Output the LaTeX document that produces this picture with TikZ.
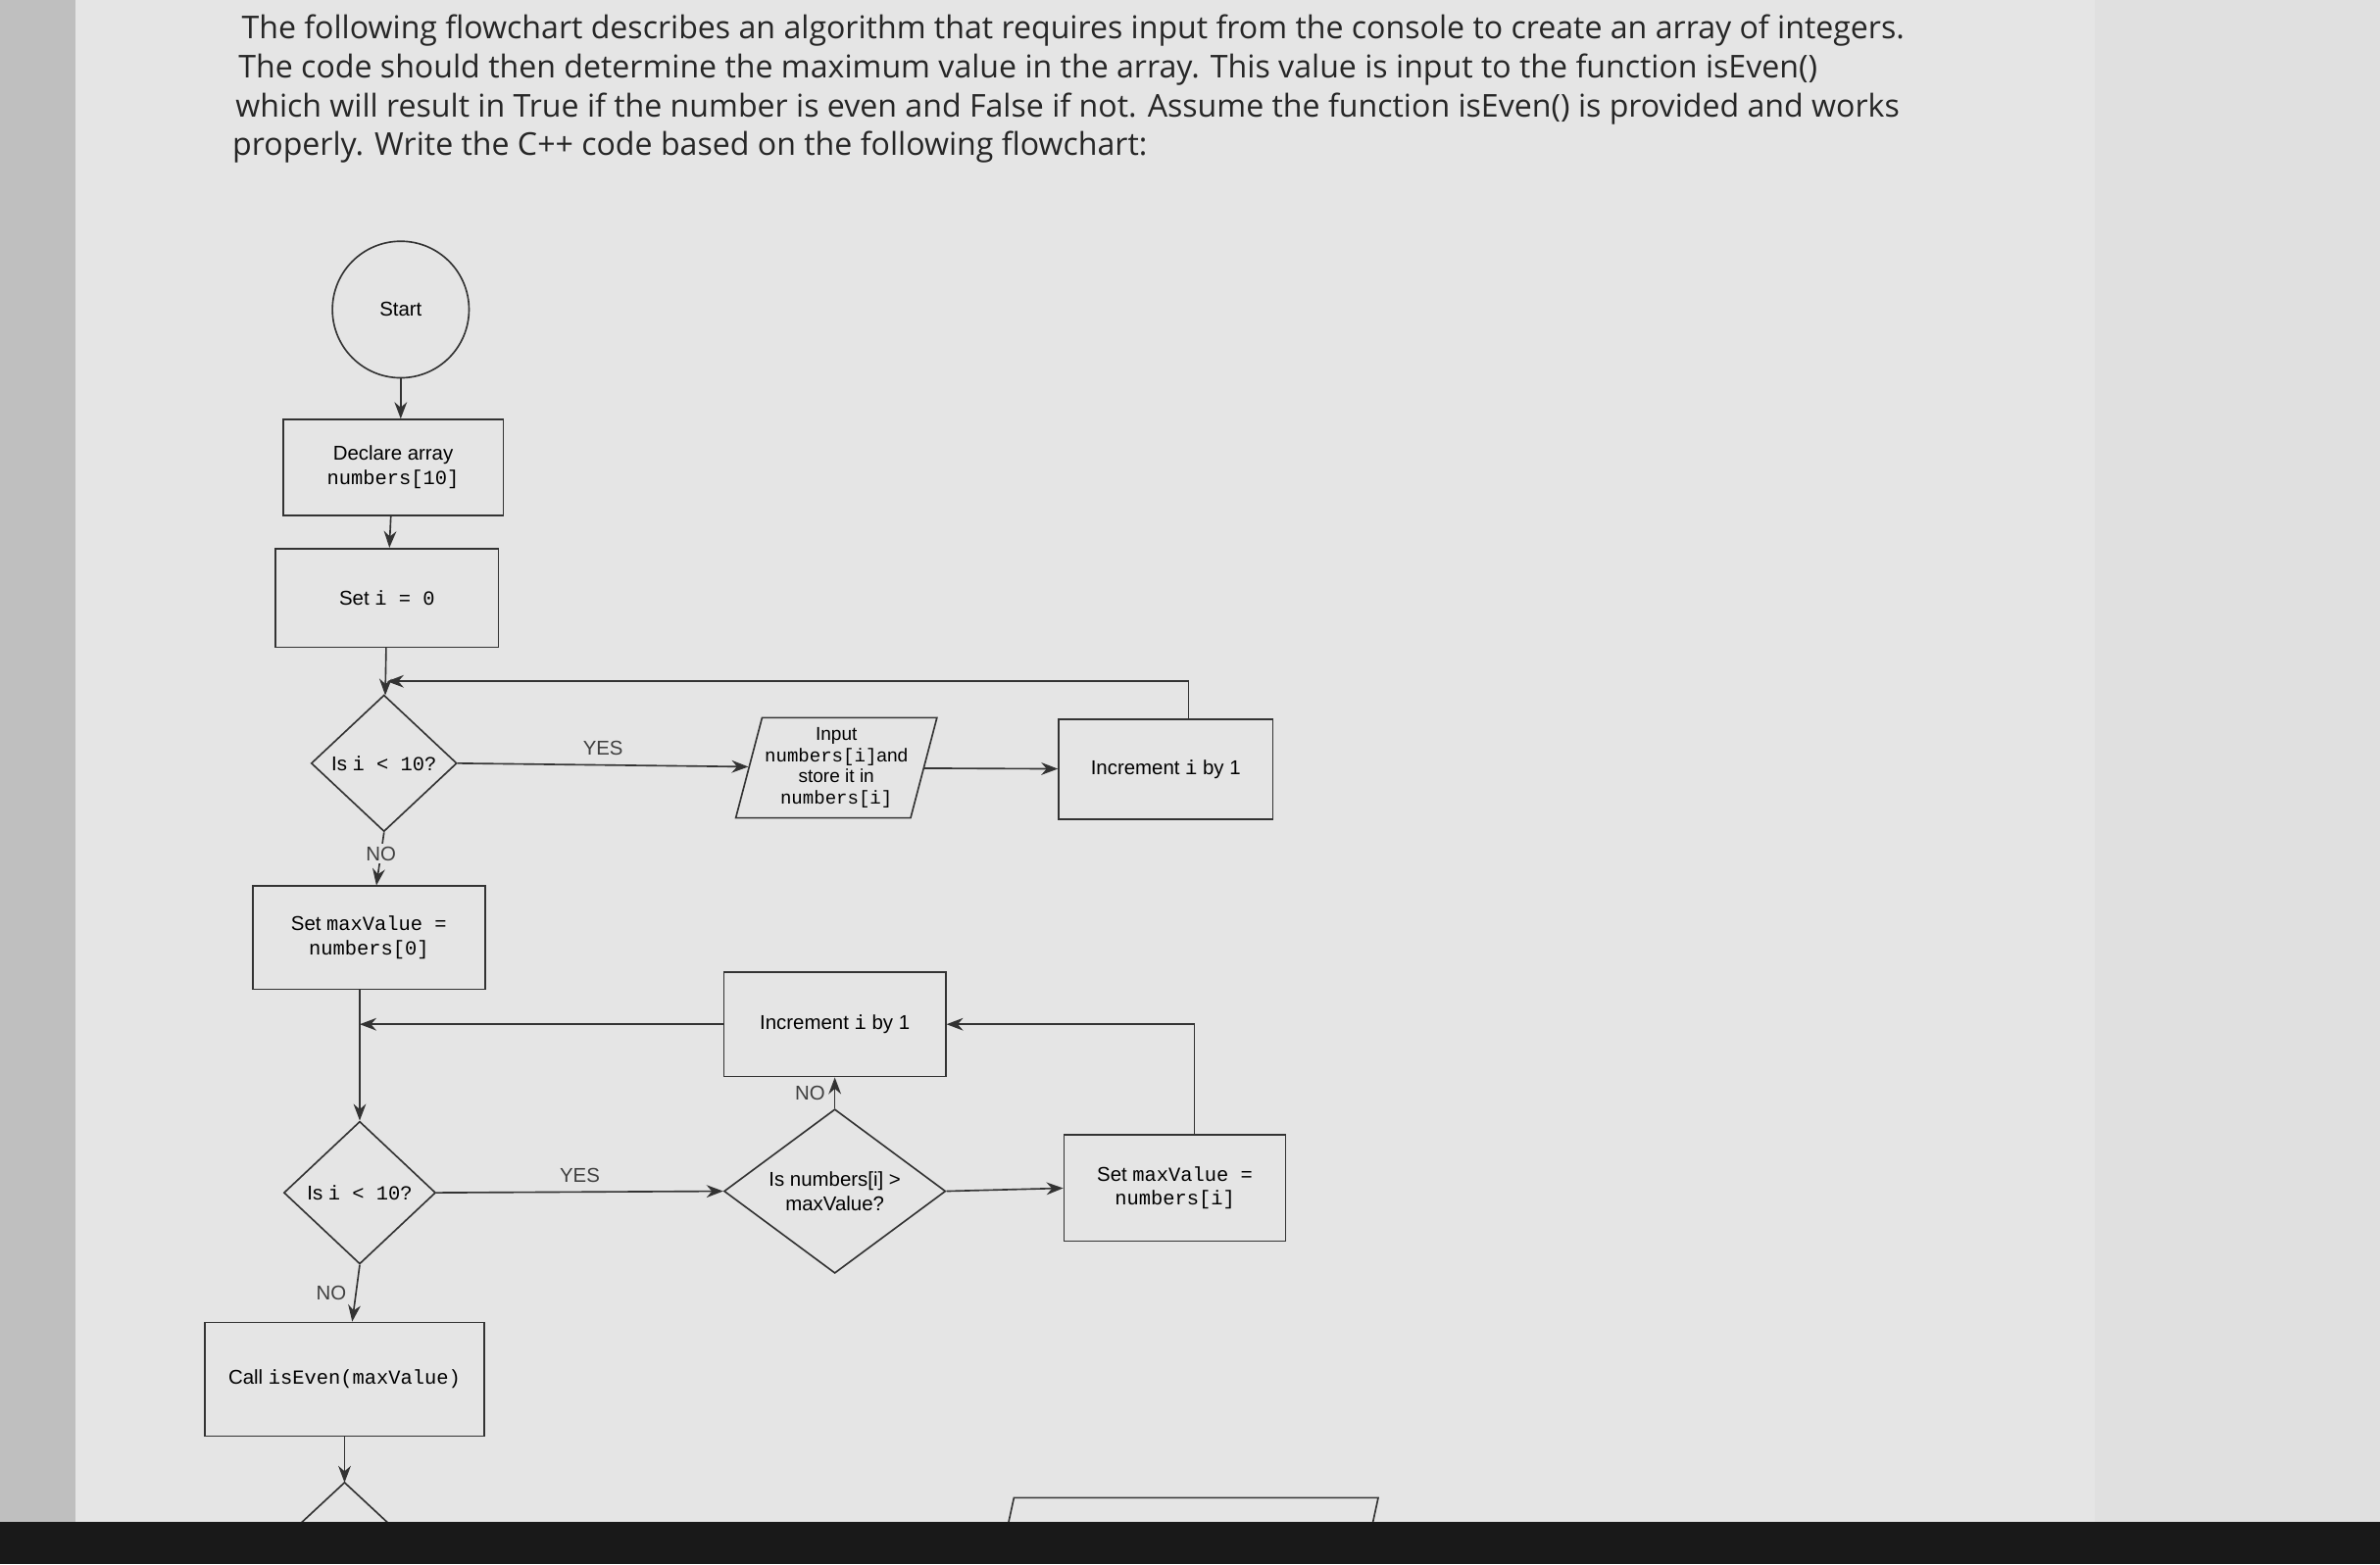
\documentclass[tikz,border=0pt]{standalone}
\usepackage{fontspec}
\setmainfont{Liberation Sans}
\newfontfamily\parafont{Open Sans}
\newfontfamily\codefont{Liberation Mono}
\usetikzlibrary{shapes.geometric,arrows.meta}
\newcommand{\cd}[1]{{\codefont #1}}
\tikzset{
  box/.style={draw=black!80, semithick, align=center, font=\fontsize{7.5}{9}\selectfont, inner sep=1pt},
  dec/.style={draw=black!80, semithick, diamond, aspect=1.05, align=center, font=\fontsize{7.5}{9}\selectfont, inner sep=0pt},
  flow/.style={draw=black!80, semithick, -{Stealth[length=2.2mm]}},
  lbl/.style={font=\fontsize{7.5}{9}\selectfont, text=black!75},
  para/.style={anchor=west, font=\parafont\fontsize{11.8}{14}\selectfont, text=black!85}
}
\begin{document}
\begin{tikzpicture}[x=0.2mm, y=-0.2mm]
  \useasboundingbox (0,0) rectangle (1568,1031);
  % background of the photo
  \fill[black!12] (0,0) rectangle (1568,1031);
  \fill[black!25] (0,0) rectangle (50,1031);
  \fill[black!10] (50,0) rectangle (1380,1031);

  % question text
  \node[para] (l1) at (153,20) {The following flowchart describes an algorithm that requires input from the console to create an array of integers.};
  \node[para] (l2) at (151,46) {The code should then determine the maximum value in the array. This value is input to the function isEven()};
  \node[para] (l3) at (149,72) {which will result in True if the number is even and False if not. Assume the function isEven() is provided and works};
  \node[para] (l4) at (147,97) {properly. Write the C++ code based on the following flowchart:};

  % first loop
  \node[box, circle, minimum size=18mm] (start) at (264,204) {Start};
  \node[box, minimum width=29mm, minimum height=12.6mm] (decl) at (259,308) {Declare array\\\cd{numbers[10]}};
  \node[box, minimum width=29.4mm, minimum height=13mm] (seti) at (255,394) {Set \cd{i = 0}};
  \node[dec, minimum width=19.2mm, minimum height=18mm] (test1) at (253,503) {Is \cd{i < 10?}};
  \node[box, trapezium, trapezium left angle=73, trapezium right angle=107, trapezium stretches body, minimum width=25mm, minimum height=13.2mm, font=\fontsize{7}{8}\selectfont] (input) at (551,506) {Input\\\cd{numbers[i]}and\\store it in\\\cd{numbers[i]}};
  \node[box, minimum width=28.2mm, minimum height=13.2mm] (inc1) at (768,507) {Increment \cd{i} by 1};

  % second loop
  \node[box, minimum width=30.6mm, minimum height=13.6mm] (setmax) at (243,618) {Set \cd{maxValue =}\\\cd{numbers[0]}};
  \node[box, minimum width=29.2mm, minimum height=13.8mm] (inc2) at (550,675) {Increment \cd{i} by 1};
  \node[dec, minimum width=20mm, minimum height=18.8mm] (test2) at (237,786) {Is \cd{i < 10?}};
  \node[dec, minimum width=29.2mm, minimum height=18.8mm] (cmp) at (550,785) {Is numbers[i] >\\maxValue?};
  \node[box, minimum width=29.2mm, minimum height=14mm] (setmax2) at (774,783) {Set \cd{maxValue =}\\\cd{numbers[i]}};
  \node[box, minimum width=36.8mm, minimum height=15mm] (call) at (227,909) {Call \cd{isEven(maxValue)}};

  % cut-off shapes at the bottom
  \draw[black!80, semithick] (170,1030) -- (227,977) -- (284,1030);
  \draw[black!80, semithick] (663,1010) -- (668,987) -- (908,987) -- (903,1010);

  % connectors
  \draw[flow] (start) -- (start |- decl.north);
  \draw[flow] (decl) -- (seti);
  \draw[flow] (seti) -- (test1);
  \draw[flow] (test1.east) -- node[lbl, above, pos=0.5] {YES} (input);
  \draw[flow] (input) -- (inc1);
  \coordinate (back1) at (255,449);
  \draw[flow] (inc1.north -| 783,0) |- (back1);
  \draw[flow] (test1.south) -- node[lbl, pos=0.4, fill=black!10, inner sep=1pt] {NO} (setmax);
  \draw[flow] (setmax.south -| 237,0) -- (test2.north);
  \coordinate (back2) at (237,675);
  \draw[flow] (inc2.west) -- (back2);
  \draw[flow] (test2.east) -- node[lbl, above, pos=0.5] {YES} (cmp.west);
  \draw[flow] (cmp.north) -- node[lbl, left, pos=0.5] {NO} (inc2.south);
  \draw[flow] (cmp.east) -- (setmax2.west);
  \draw[flow] (setmax2.north -| 787,0) |- (inc2.east);
  \draw[flow] (test2.south) -- node[lbl, left, pos=0.5] {NO} (call);
  \draw[flow] (call) -- (227,977);

  % bottom edge of the screen
  \fill[black!90] (0,1003) rectangle (1568,1031);
\end{tikzpicture}
\end{document}
